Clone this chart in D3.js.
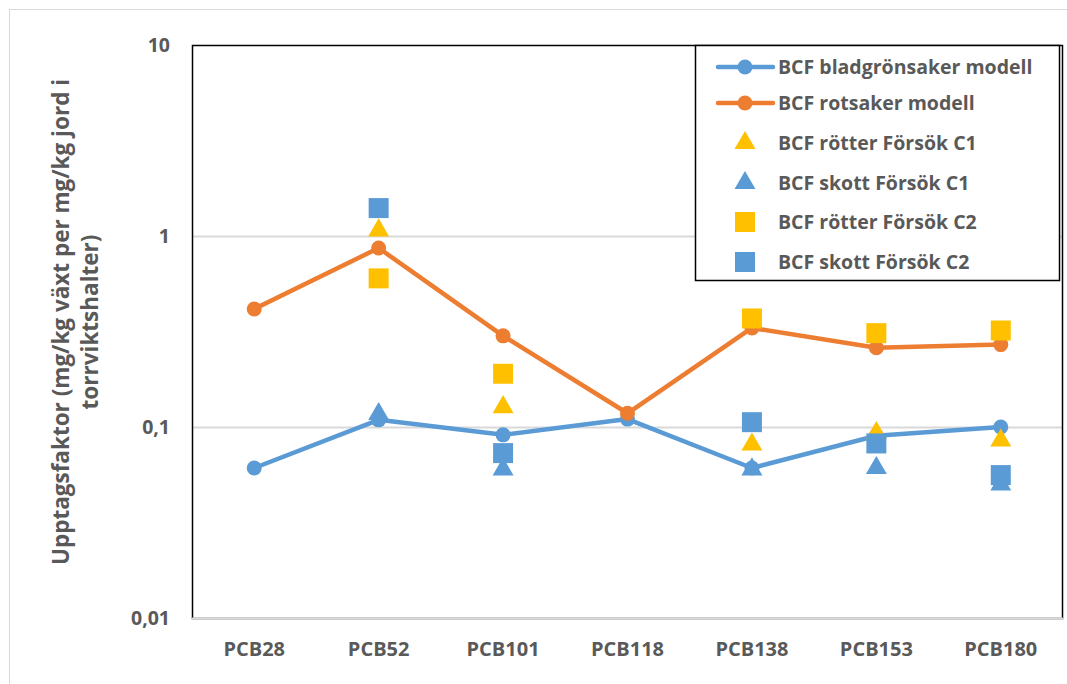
<!DOCTYPE html>
<html>
<head>
<meta charset="utf-8">
<script src="https://cdn.jsdelivr.net/npm/d3@7"></script>
<style>
  body { margin: 0; background: #fff; }
  svg text { font-family: "Open Sans", Lato, sans-serif; font-weight: bold; fill: #595959; }
</style>
</head>
<body>
<svg id="chart" width="1067" height="684"></svg>
<script>
const categories = ["PCB28", "PCB52", "PCB101", "PCB118", "PCB138", "PCB153", "PCB180"];

// null = no marker for that congener
const bladModell = [0.061, 0.109, 0.091, 0.11, 0.061, 0.09, 0.1];
const rotModell = [0.415, 0.865, 0.30, 0.118, 0.33, 0.26, 0.27];
const rotterC1 = [null, 1.07, 0.127, null, 0.081, 0.093, 0.085];
const skottC1 = [null, 0.117, 0.06, null, 0.06, 0.061, 0.05];
const rotterC2 = [null, 0.60, 0.19, null, 0.37, 0.31, 0.32];
const skottC2 = [null, 1.40, 0.073, null, 0.106, 0.082, 0.056];

const yTicks = [0.01, 0.1, 1, 10];
const yTickLabels = ["0,01", "0,1", "1", "10"];

const blue = "#5B9BD5", orange = "#ED7D31", yellow = "#FFC000";

const series = [
  { name: "BCF bladgrönsaker modell", values: bladModell, color: blue, type: "line" },
  { name: "BCF rotsaker modell", values: rotModell, color: orange, type: "line" },
  { name: "BCF rötter Försök C1", values: rotterC1, color: yellow, type: "triangle" },
  { name: "BCF skott Försök C1", values: skottC1, color: blue, type: "triangle" },
  { name: "BCF rötter Försök C2", values: rotterC2, color: yellow, type: "square" },
  { name: "BCF skott Försök C2", values: skottC2, color: blue, type: "square" }
];

const svg = d3.select("#chart");
const margin = { top: 45, right: 4, bottom: 66, left: 192 };
const width = 1067, height = 684;

const x = d3.scaleBand().domain(categories).range([margin.left, width - margin.right]);
const y = d3.scaleLog().domain([0.01, 10]).range([height - margin.bottom, margin.top]);
const cx = d => x(d) + x.bandwidth() / 2;

// outer chart frame
svg.append("rect")
  .attr("x", 9.5).attr("y", 9.5)
  .attr("width", width + 10).attr("height", height + 10)
  .attr("fill", "none").attr("stroke", "#d9d9d9");

// gridlines
svg.append("g")
  .selectAll("line")
  .data(yTicks.slice(1, -1))
  .join("line")
  .attr("x1", margin.left).attr("x2", width - margin.right)
  .attr("y1", d => Math.round(y(d)) + 0.5).attr("y2", d => Math.round(y(d)) + 0.5)
  .attr("stroke", "#d9d9d9").attr("stroke-width", 2);

// plot area border
svg.append("rect")
  .attr("x", margin.left + 0.5).attr("y", margin.top + 0.5)
  .attr("width", width - margin.right - margin.left - 1)
  .attr("height", height - margin.bottom - margin.top)
  .attr("fill", "none").attr("stroke", "#000").attr("stroke-width", 1.5);

// category axis line
svg.append("line")
  .attr("x1", margin.left).attr("x2", width - margin.right)
  .attr("y1", y(0.01) + 0.5).attr("y2", y(0.01) + 0.5)
  .attr("stroke", "#d9d9d9").attr("stroke-width", 2);

// y tick labels
svg.append("g")
  .selectAll("text")
  .data(yTicks)
  .join("text")
  .attr("x", 170)
  .attr("y", d => y(d))
  .attr("dy", "0.35em")
  .attr("text-anchor", "end")
  .attr("font-size", 19.5)
  .text((d, i) => yTickLabels[i]);

// x tick labels
svg.append("g")
  .selectAll("text")
  .data(categories)
  .join("text")
  .attr("x", d => cx(d))
  .attr("y", 649)
  .attr("dy", "0.35em")
  .attr("text-anchor", "middle")
  .attr("font-size", 20)
  .text(d => d);

// y axis title
const title = svg.append("text")
  .attr("transform", "translate(61,322) rotate(-90)")
  .attr("text-anchor", "middle")
  .attr("font-size", 22.5);
title.append("tspan").attr("x", 0).attr("dy", "0.35em").text("Upptagsfaktor (mg/kg växt per mg/kg jord i");
title.append("tspan").attr("x", 0).attr("dy", "1.3em").text("torrviktshalter)");

const triangle = d3.symbol().type(d3.symbolTriangle).size(190);
const square = d3.symbol().type(d3.symbolSquare).size(400);

function drawMarker(g, type, color) {
  if (type === "line") {
    g.append("circle").attr("r", 7.5).attr("fill", color);
  } else if (type === "triangle") {
    g.append("path").attr("d", triangle()).attr("fill", color);
  } else {
    g.append("path").attr("d", square()).attr("fill", color);
  }
}

const line = d3.line()
  .x((d, i) => cx(categories[i]))
  .y(d => y(d));

series.forEach(s => {
  const g = svg.append("g");
  if (s.type === "line") {
    g.append("path")
      .datum(s.values)
      .attr("d", line)
      .attr("fill", "none")
      .attr("stroke", s.color)
      .attr("stroke-width", 4.5)
      .attr("stroke-linejoin", "round");
  }
  s.values.forEach((v, i) => {
    if (v == null) return;
    const m = g.append("g").attr("transform", `translate(${cx(categories[i])},${y(v)})`);
    drawMarker(m, s.type, s.color);
  });
});

// legend
const legend = svg.append("g");
legend.append("rect")
  .attr("x", 695.5).attr("y", 45.5)
  .attr("width", 364).attr("height", 235)
  .attr("fill", "#fff").attr("stroke", "#000").attr("stroke-width", 1.5);

const legendY = [67, 103, 143, 183, 222, 262];
series.forEach((s, i) => {
  const row = legend.append("g").attr("transform", `translate(0,${legendY[i]})`);
  if (s.type === "line") {
    row.append("line")
      .attr("x1", 718).attr("x2", 773)
      .attr("stroke", s.color).attr("stroke-width", 4.5).attr("stroke-linecap", "round");
  }
  const m = row.append("g").attr("transform", "translate(745,0)");
  drawMarker(m, s.type, s.color);
  row.append("text")
    .attr("x", 778).attr("dy", "0.35em")
    .attr("font-size", 19.5)
    .text(s.name);
});
</script>
</body>
</html>
